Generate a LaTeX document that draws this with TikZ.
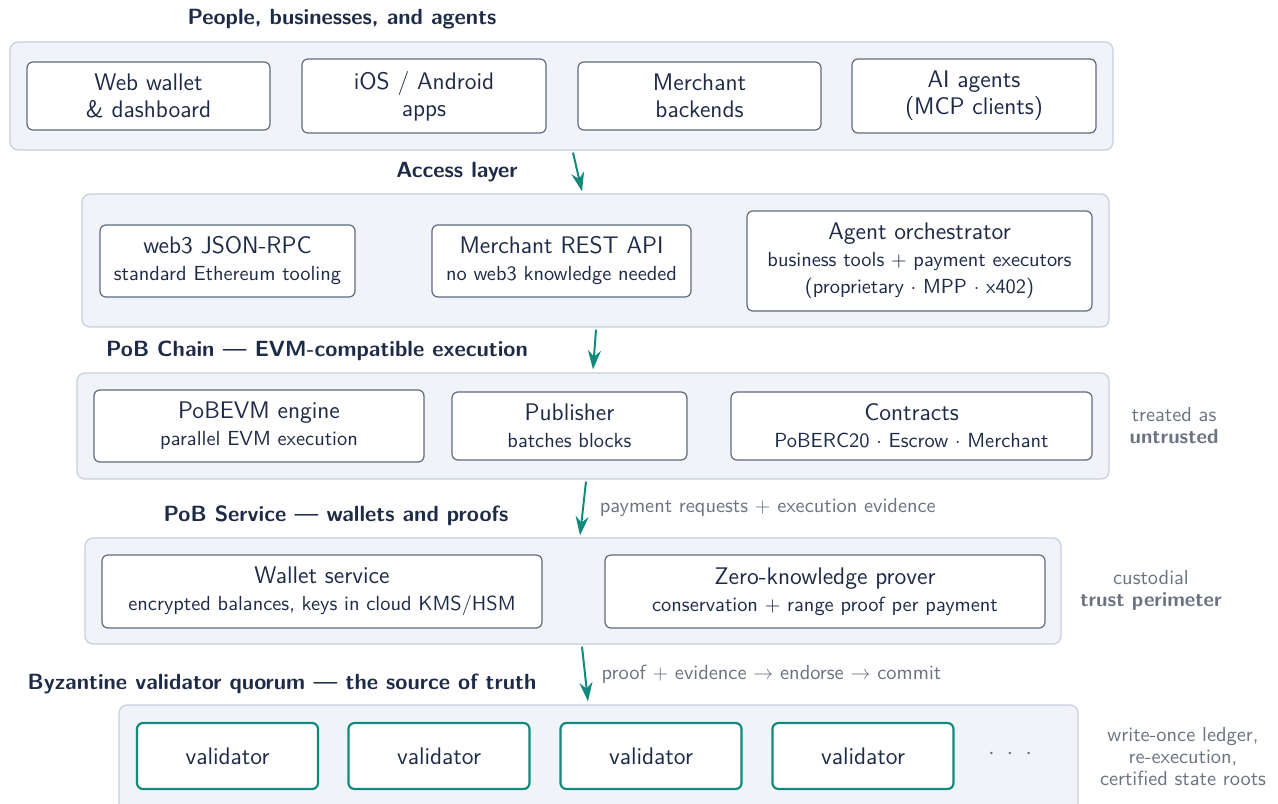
\documentclass[tikz,border=0pt]{standalone}
\usepackage{tikz}
\usetikzlibrary{arrows.meta,positioning,calc}
\definecolor{ink}{HTML}{1E2B47}
\definecolor{panelfill}{HTML}{F0F4F9}
\definecolor{paneldraw}{HTML}{C6D0DD}
\definecolor{boxdraw}{HTML}{5E6A7E}
\definecolor{quorum}{HTML}{13897B}
\definecolor{muted}{HTML}{6B7280}
\newcommand{\subline}[1]{{\fontsize{10.2}{13.5}\selectfont #1}}

\begin{document}
\begin{tikzpicture}[x=0.5pt,y=-0.5pt,
  font=\sffamily\fontsize{12}{13.5}\selectfont,text=ink,
  panel/.style={draw=paneldraw,fill=panelfill,rounded corners=4pt,line width=0.6pt,inner sep=0pt},
  box/.style={draw=boxdraw,fill=white,rounded corners=3pt,line width=0.6pt,inner sep=0pt,align=center},
  vbox/.style={draw=quorum,fill=white,rounded corners=3pt,line width=1.1pt,inner sep=0pt,minimum width=90.5pt,minimum height=33pt},
  ttl/.style={font=\sffamily\bfseries\fontsize{11}{13.5}\selectfont},
  note/.style={font=\sffamily\fontsize{10.2}{11}\selectfont,text=muted,align=center},
  arr/.style={-{Stealth[length=9.5pt,width=6.5pt]},line width=1pt,quorum}]
\useasboundingbox (0,0) rectangle (1278,803);

% users
\node[ttl] (t1) at (342,19) {People, businesses, and agents};
\node[panel,minimum width=551.5pt,minimum height=54pt] (p1) at (561.5,96) {};
\node[box,minimum width=121.5pt,minimum height=34pt] (web) at (148.5,96) {Web wallet\\\& dashboard};
\node[box,minimum width=122pt,minimum height=37pt] (ios) at (424,96) {iOS / Android\\apps};
\node[box,minimum width=121.5pt,minimum height=34pt] (mb) at (699.5,96) {Merchant\\backends};
\node[box,minimum width=122pt,minimum height=37pt] (ai) at (974,96) {AI agents\\(MCP clients)};

% access layer
\node[ttl] (t2) at (457,172) {Access layer};
\node[panel,minimum width=513.5pt,minimum height=66.5pt] (p2) at (595.5,260.5) {};
\node[box,minimum width=127.5pt,minimum height=36pt] (rpc) at (227.5,261) {web3 JSON-RPC\\\subline{standard Ethereum tooling}};
\node[box,minimum width=129.5pt,minimum height=36pt] (rest) at (561.5,261) {Merchant REST API\\\subline{no web3 knowledge needed}};
\node[box,minimum width=172.5pt,minimum height=50pt] (orch) at (919.5,261) {Agent orchestrator\\\subline{business tools $+$ payment executors}\\\subline{(proprietary $\cdot$ MPP $\cdot$ x402)}};

% chain
\node[ttl] (t3) at (317,351) {PoB Chain --- EVM-compatible execution};
\node[panel,minimum width=516pt,minimum height=53pt] (p3) at (593,426) {};
\node[box,minimum width=165pt,minimum height=36pt] (evm) at (259,426) {PoBEVM engine\\\subline{parallel EVM execution}};
\node[box,minimum width=117.5pt,minimum height=34pt] (pub) at (569.5,426) {Publisher\\\subline{batches blocks}};
\node[box,minimum width=180.5pt,minimum height=34pt] (ctr) at (911.5,426) {Contracts\\\subline{PoBERC20 $\cdot$ Escrow $\cdot$ Merchant}};
\node[note] (n3) at (1174,426) {treated as\\\textbf{untrusted}};

% service
\node[ttl] (t4) at (336,516) {PoB Service --- wallets and proofs};
\node[panel,minimum width=488pt,minimum height=53pt] (p4) at (573,591) {};
\node[box,minimum width=220pt,minimum height=36.5pt] (wal) at (322,591.5) {Wallet service\\\subline{encrypted balances, keys in cloud KMS/HSM}};
\node[box,minimum width=220pt,minimum height=36.5pt] (zk) at (825,591.5) {Zero-knowledge prover\\\subline{conservation $+$ range proof per payment}};
\node[note] (n4) at (1151,590) {custodial\\\textbf{trust perimeter}};

% quorum
\node[ttl] (t5) at (282,684) {Byzantine validator quorum --- the source of truth};
\node[panel,minimum width=479.5pt,minimum height=59pt] (p5) at (598.5,764) {};
\foreach \i/\x in {1/227.5,2/439,3/651,4/863}
  \node[vbox] (v\i) at (\x,756) {validator};
\node[text=muted] (dots) at (1010,754) {${\cdot}\enspace{\cdot}\enspace{\cdot}$};
\node[note] (n5) at (1183,757) {write-once ledger,\\re-execution,\\certified state roots};

\draw[arr] ($(p1.south)+(11.5,2)$) -- ($(p2.north)+(-13.5,-2)$);
\draw[arr] ($(p2.south)+(0.5,2)$) -- ($(p3.north)+(0,-3)$);
\draw[arr] ($(p3.south)+(-7,2)$) -- node[note,anchor=west,pos=0.48,xshift=4.5pt] (l3) {payment requests $+$ execution evidence} ($(p4.north)+(7,-2)$);
\draw[arr] ($(p4.south)+(9,2)$) -- node[note,anchor=west,pos=0.5,xshift=4.5pt] (l4) {proof $+$ evidence $\rightarrow$ endorse $\rightarrow$ commit} ($(p5.north)+(-10.5,-3)$);
\end{tikzpicture}
\end{document}
